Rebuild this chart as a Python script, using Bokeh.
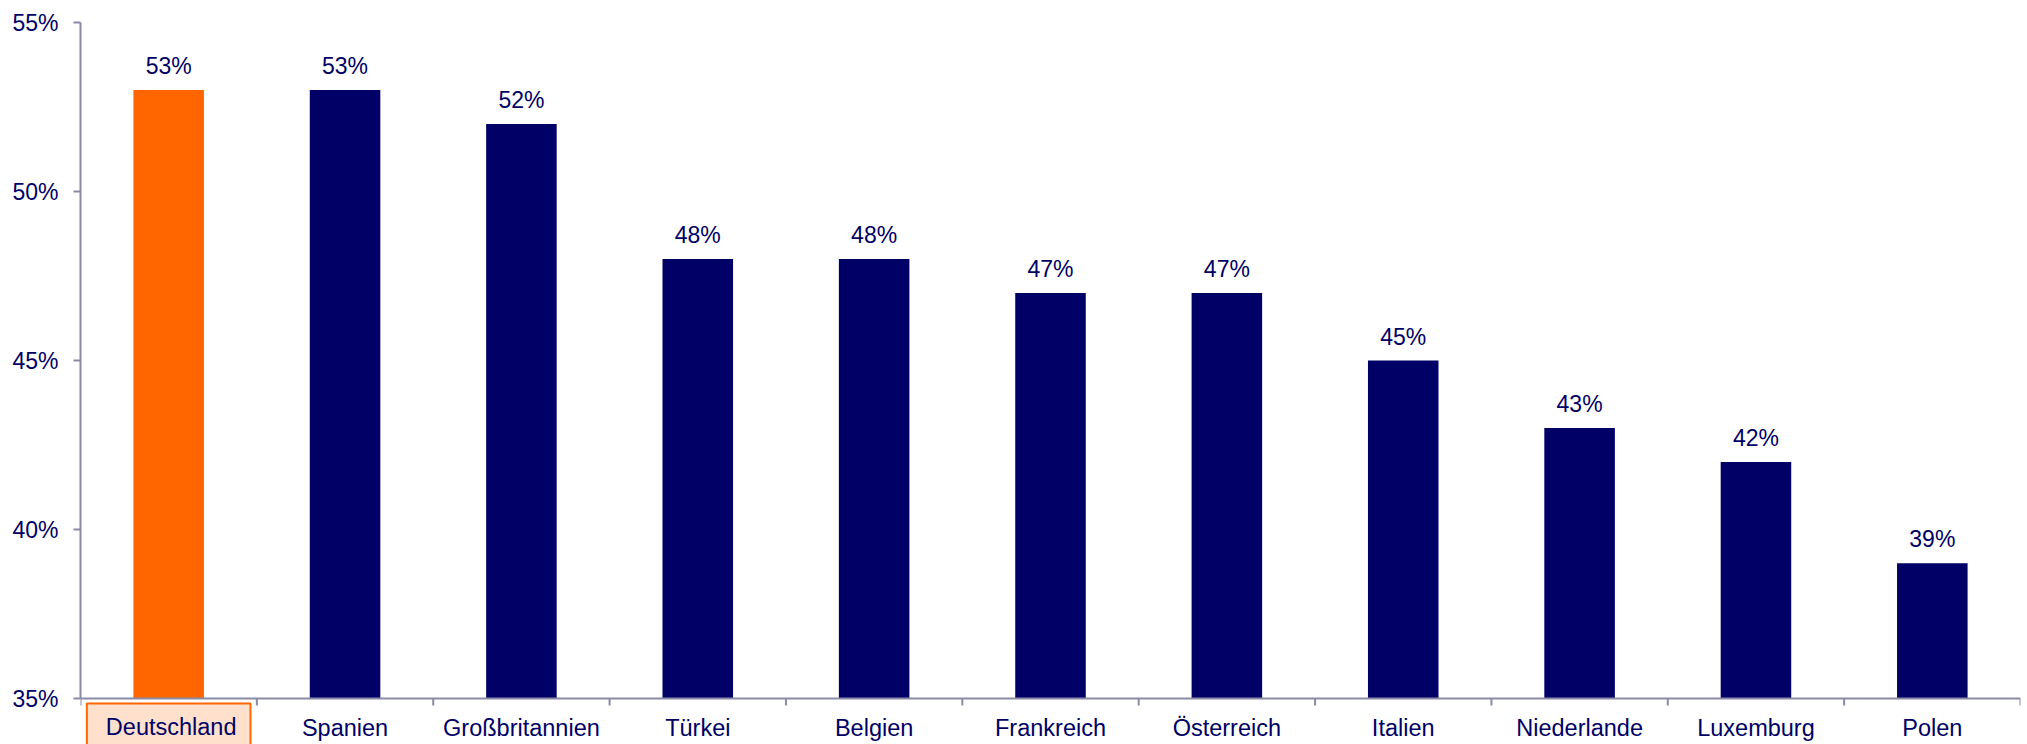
import math
from bokeh.plotting import figure
from bokeh.models import ColumnDataSource, FixedTicker, PrintfTickFormatter, LabelSet, Range1d
from bokeh.core.properties import value
from bokeh.embed import file_html
from bokeh.resources import INLINE

countries = ["Deutschland", "Spanien", "Großbritannien", "Türkei", "Belgien", "Frankreich",
             "Österreich", "Italien", "Niederlande", "Luxemburg", "Polen"]
values = [53, 53, 52, 48, 48, 47, 47, 45, 43, 42, 39]
highlight = "Deutschland"
y_ticks = [35, 40, 45, 50, 55]

NAVY = "#000066"
ORANGE = "#ff6600"
AXIS = "#8a8aa6"
FONT = "Liberation Sans"

n = len(countries)
xs = [i + 0.5 for i in range(n)]
colors = [ORANGE if c == highlight else NAVY for c in countries]
labels = [f"{v}%" for v in values]
src = ColumnDataSource(dict(x=xs, top=values, color=colors, label=labels))

Y0, Y1 = y_ticks[0], y_ticks[-1]
PLOT_H = 676          # pixels between 35% and 55%
BELOW = 46            # pixels of frame below the 35% line
y_start = Y0 - BELOW * (Y1 - Y0) / PLOT_H

p = figure(output_backend="svg", toolbar_location=None, x_axis_location=None,
           frame_width=1940, frame_height=PLOT_H + BELOW,
           min_border_left=80, min_border_right=7, min_border_top=22, min_border_bottom=0,
           x_range=Range1d(0, n), y_range=Range1d(y_start, Y1))
p.outline_line_color = None
p.grid.visible = False
p.background_fill_color = "white"

p.vbar(x="x", top="top", bottom=Y0, width=0.4, color="color", line_color=None, source=src)

p.add_layout(LabelSet(x="x", y="top", text="label", source=src, y_offset=16,
                      text_align="center", text_baseline="alphabetic",
                      text_font=value(FONT), text_font_size="23px", text_color=NAVY))

# y axis
ya = p.yaxis[0]
ya.bounds = (Y0, Y1)
ya.ticker = FixedTicker(ticks=y_ticks)
ya.formatter = PrintfTickFormatter(format="%d%%")
ya.axis_line_color = AXIS
ya.axis_line_width = 2
ya.major_tick_line_color = AXIS
ya.major_tick_line_width = 2
ya.major_tick_out = 7
ya.major_tick_in = 0
ya.minor_tick_line_color = None
ya.major_label_text_font = FONT
ya.major_label_text_font_size = "23px"
ya.major_label_text_color = NAVY
ya.major_label_standoff = 15

# x axis drawn at the 35% line
p.segment(x0=[0], y0=[Y0], x1=[n], y1=[Y0], line_color=AXIS, line_width=2)
p.ray(x=list(range(n + 1)), y=[Y0] * (n + 1), length=7, length_units="screen",
      angle=-math.pi / 2, line_color=AXIS, line_width=2)

others = [i for i, c in enumerate(countries) if c != highlight]
p.text(x=[xs[i] for i in others], y=[Y0] * len(others), text=[countries[i] for i in others],
       y_offset=29, text_align="center", text_baseline="alphabetic",
       text_font=value(FONT), text_font_size="23.5px", text_color=NAVY)

hi = countries.index(highlight)
p.text(x=[xs[hi]], y=[Y0], text=[highlight], y_offset=29,
       text_align="center", text_baseline="alphabetic",
       text_font=value(FONT), text_font_size="23.5px", text_color=NAVY,
       background_fill_color="#ffe0cc", border_line_color=ORANGE, border_line_width=2,
       padding=dict(left=19, right=14, top=10, bottom=12))

open("out.html", "w").write(file_html(p, INLINE))
